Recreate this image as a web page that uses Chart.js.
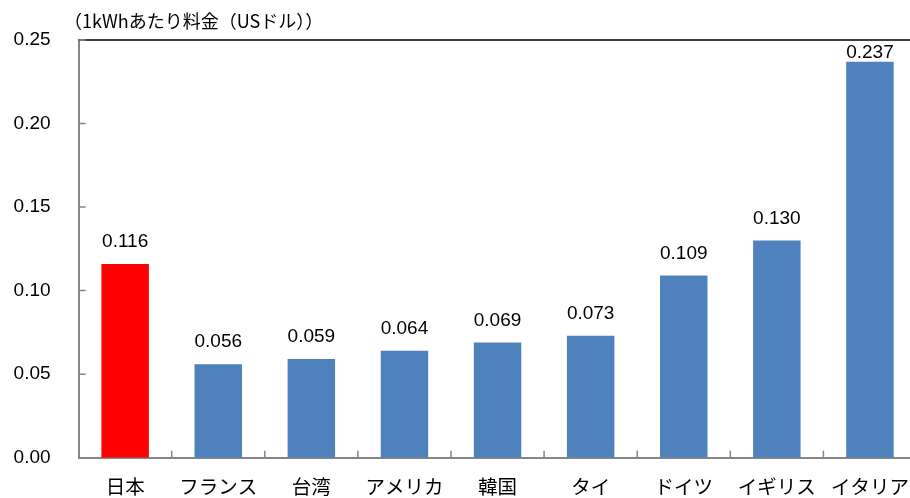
<!DOCTYPE html>
<html>
<head>
<meta charset="utf-8">
<script src="https://cdn.jsdelivr.net/npm/chart.js@4"></script>
<style>
  html, body { margin: 0; padding: 0; background: #fff; overflow: hidden; }
  #wrap { width: 910px; height: 498px; overflow: hidden; position: relative; }
  #barChart { position: absolute; left: 0; top: 0; }
</style>
</head>
<body>
<div id="wrap"><canvas id="barChart" width="918" height="498"></canvas></div>
<script>
// data
var categories = ["日本", "フランス", "台湾", "アメリカ", "韓国", "タイ", "ドイツ", "イギリス", "イタリア"];
var prices = [0.116, 0.056, 0.059, 0.064, 0.069, 0.073, 0.109, 0.130, 0.237];
var barColors = ["#FF0000", "#4F81BD", "#4F81BD", "#4F81BD", "#4F81BD", "#4F81BD", "#4F81BD", "#4F81BD", "#4F81BD"];
var yTicks = [0, 0.05, 0.10, 0.15, 0.20, 0.25];
var unitTitle = "（1kWhあたり料金（USドル））";

var numFont = "'Liberation Sans', Arial, sans-serif";
var jpFont = "'Noto Sans CJK JP', sans-serif";

// title, top border, inward ticks and value labels
var decor = {
    id: 'decor',
    afterDraw: function (chart) {
        var c = chart.ctx;
        var area = chart.chartArea;
        var xs = chart.scales.x;
        var ys = chart.scales.y;
        c.save();

        c.fillStyle = '#000';
        c.font = '18px ' + jpFont;
        c.textBaseline = 'middle';
        c.textAlign = 'left';
        c.fillText(unitTitle, 64, 21);

        c.strokeStyle = '#000';
        c.lineWidth = 1.5;
        c.beginPath();
        c.moveTo(area.left, area.top);
        c.lineTo(area.right, area.top);
        c.stroke();

        c.strokeStyle = '#868686';
        c.lineWidth = 1.5;
        c.beginPath();
        yTicks.forEach(function (v) {
            var y = ys.getPixelForValue(v);
            c.moveTo(area.left, y);
            c.lineTo(area.left + 7, y);
        });
        for (var i = 0; i < categories.length - 1; i++) {
            var x = (xs.getPixelForValue(i) + xs.getPixelForValue(i + 1)) / 2;
            c.moveTo(x, area.bottom);
            c.lineTo(x, area.bottom - 7);
        }
        c.stroke();

        c.fillStyle = '#000';
        c.font = '19px ' + numFont;
        c.textAlign = 'center';
        c.textBaseline = 'middle';
        chart.getDatasetMeta(0).data.forEach(function (bar, i) {
            var y = Math.max(bar.y - 22, area.top + 13);
            c.fillText(prices[i].toFixed(3), bar.x, y);
        });
        c.restore();
    }
};

var ctx = document.getElementById("barChart");
var priceChart = new Chart(ctx, {
    type: 'bar',
    data: {
        labels: categories,
        datasets: [{
            data: prices,
            backgroundColor: barColors,
            barPercentage: 0.51,
            categoryPercentage: 1.0
        }]
    },
    options: {
        responsive: false,
        animation: false,
        devicePixelRatio: 1,
        layout: { padding: { top: 40, right: 1.5, left: 0, bottom: 0 } },
        plugins: {
            legend: { display: false },
            tooltip: { enabled: false }
        },
        scales: {
            x: {
                grid: { display: false, drawTicks: false },
                border: { color: '#868686', width: 2 },
                ticks: { color: '#000', font: { family: jpFont, size: 19.5 }, padding: 17 },
                afterFit: function (s) {
                    s.height = 40.3;
                    s.paddingLeft = 0;
                    s.paddingRight = 0;
                }
            },
            y: {
                min: 0,
                max: 0.25,
                grid: { display: false, drawTicks: false },
                border: { color: '#868686', width: 2 },
                ticks: {
                    stepSize: 0.05,
                    color: '#000',
                    padding: 28,
                    font: { family: numFont, size: 19 },
                    callback: function (v) { return v.toFixed(2); }
                },
                afterFit: function (s) { s.width = 78.6; }
            }
        }
    },
    plugins: [decor]
});
</script>
</body>
</html>
